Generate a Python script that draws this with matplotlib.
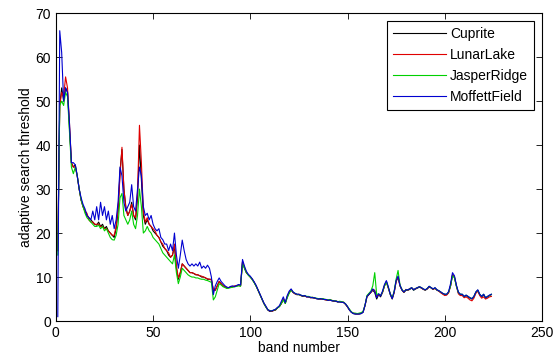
import matplotlib
matplotlib.use("Agg")
import matplotlib.pyplot as plt

# adaptive search threshold per band, one list per scene (bands 1..224)
cuprite = [
    16, 49, 53, 50, 53, 52, 44, 36, 35, 35.5,
    33, 30, 27.5, 26, 25, 24, 23.5, 23, 22.5, 22,
    21.8, 22.5, 21.5, 22, 21, 21.5, 20.5, 20, 19.5, 19,
    21, 25, 34, 39, 30, 26, 24, 25, 27, 24,
    23, 28, 40, 32, 24, 22, 23, 22, 21.5, 20.5,
    20, 19.5, 19, 18, 17, 16.5, 16, 15, 14.5, 15,
    17, 12, 9.5, 11, 13, 12.5, 12, 11.5, 11, 11,
    10.8, 10.5, 10.5, 10.3, 10, 10, 9.8, 9.5, 9.5, 9.5,
    7, 7, 8, 9, 8.5, 8, 7.8, 7.5, 7.6, 7.8,
    7.8, 7.9, 8, 8.2, 8, 13.5, 12, 11, 10.5, 10,
    9.5, 8.8, 8, 7, 6, 5, 4, 3.2, 2.5, 2.2,
    2.2, 2.4, 2.5, 3, 3.3, 4, 5, 4, 5.5, 6.5,
    7.2, 6.5, 6.2, 6, 6, 5.8, 5.6, 5.7, 5.5, 5.5,
    5.3, 5.3, 5.2, 5.1, 5, 5, 5, 4.9, 4.8, 4.7,
    4.8, 4.6, 4.5, 4.5, 4.3, 4.4, 4.3, 4.2, 3.8, 3.2,
    2.5, 2, 1.7, 1.6, 1.6, 1.6, 1.7, 2, 3.5, 5.5,
    6, 6.5, 7, 6.5, 5, 6, 5.5, 6.5, 8, 9,
    7.5, 6, 5, 6.5, 9, 10, 8, 7, 6.5, 7,
    7, 7.2, 7.5, 7, 7.3, 7.5, 7.7, 7.5, 7.2, 7,
    7.3, 7.8, 7.5, 7.2, 7.5, 7, 6.8, 6.5, 6.2, 6,
    6, 6.5, 8, 10.5, 10, 8, 6.5, 6, 6, 5.5,
    5.8, 5.5, 5.2, 5, 5.5, 6.5, 7, 6, 5.5, 6,
    5.2, 5.5, 5.8, 6,
]

lunar_lake = [
    16, 49, 52, 51, 55.5, 53, 45, 36, 35, 35,
    33, 30, 27.5, 26, 25, 24.5, 23, 22.5, 22.5, 22,
    22, 22, 21.5, 21.5, 21, 21, 20.5, 20, 19.5, 19.5,
    21.5, 25.5, 33, 39.5, 30, 25.5, 24, 25, 26.5, 24,
    23.5, 29, 44.5, 36, 25, 22.5, 23.5, 22, 21.5, 21,
    20.5, 19.5, 19, 18, 17.5, 16.5, 16, 15.5, 14.5, 15,
    17.5, 12.5, 9.8, 11, 13, 12.5, 12, 11.5, 11, 11,
    10.8, 10.6, 10.5, 10.3, 10.2, 10, 9.8, 9.6, 9.5, 9.3,
    7.2, 7, 8, 9, 8.5, 8, 7.8, 7.6, 7.6, 7.8,
    7.8, 8, 8, 8.1, 8, 13.5, 12.2, 11, 10.5, 10,
    9.5, 8.8, 8, 7, 6, 5, 4, 3.3, 2.6, 2.3,
    2.2, 2.4, 2.6, 3, 3.4, 4, 5, 4.2, 5.5, 6.5,
    7, 6.5, 6.2, 6, 6.1, 5.8, 5.7, 5.7, 5.5, 5.5,
    5.3, 5.4, 5.2, 5.1, 5.1, 5, 5.1, 4.9, 4.8, 4.8,
    4.8, 4.7, 4.5, 4.6, 4.4, 4.4, 4.3, 4.3, 3.8, 3.2,
    2.6, 2, 1.8, 1.7, 1.6, 1.7, 1.8, 2.1, 3.5, 5.6,
    6.2, 6.5, 7.2, 7, 5.5, 6, 5.8, 6.5, 8, 8.8,
    7.5, 6.2, 5.2, 6.5, 9, 10, 8, 7.2, 6.5, 7.2,
    7, 7.4, 7.5, 7.2, 7.3, 7.6, 7.8, 7.5, 7.2, 7.1,
    7.3, 7.8, 7.6, 7.2, 7.4, 7.1, 6.8, 6.4, 6.1, 5.8,
    5.9, 6.4, 8, 10.5, 10, 8, 6.2, 5.8, 5.8, 5.3,
    5.5, 5.2, 4.8, 4.6, 5.2, 6.3, 6.8, 5.8, 5.2, 5.5,
    5, 5.2, 5.5, 5.6,
]

jasper_ridge = [
    15, 49, 50, 49, 52, 51, 43, 35, 33.5, 35,
    33, 30, 27.5, 26, 24.5, 23.5, 23, 22.5, 22, 21.5,
    21.5, 21.8, 21, 21.5, 20.5, 21, 20, 19, 18.5, 18.4,
    19.5, 22, 28, 29, 24, 23, 22, 23, 25, 22,
    21, 24, 30, 26, 20, 20.5, 21.5, 20.5, 20, 19,
    18.5, 18, 17.5, 16.5, 15.5, 15, 14.5, 14, 13.5, 13,
    15, 11, 8.5, 10, 12, 11.5, 11, 10.5, 10.2, 10,
    10, 9.8, 9.8, 9.6, 9.5, 9.5, 9.3, 9.2, 9, 8.8,
    4.8, 5.5, 7, 8.5, 8.2, 7.8, 7.6, 7.4, 7.5, 7.6,
    7.7, 7.8, 7.9, 8, 7.9, 13, 12, 11, 10.4, 10,
    9.4, 8.7, 7.9, 7, 6, 5, 4, 3.2, 2.6, 2.4,
    2.3, 2.5, 2.6, 3, 3.3, 4, 4.8, 4, 5.3, 6.3,
    7, 6.6, 6.3, 6.1, 6, 5.9, 5.7, 5.8, 5.6, 5.6,
    5.4, 5.4, 5.3, 5.2, 5.1, 5.1, 5.1, 5, 4.9, 4.8,
    4.9, 4.7, 4.6, 4.6, 4.4, 4.5, 4.4, 4.3, 3.9, 3.3,
    2.7, 2.1, 1.8, 1.8, 1.7, 1.8, 1.9, 2.2, 3.6, 5.8,
    6.3, 6.8, 8, 11, 6, 6.2, 5.8, 6.6, 8, 8.8,
    7.6, 6.2, 5.3, 6.8, 9.5, 11.5, 8.2, 7.2, 6.6, 7.1,
    7.1, 7.3, 7.6, 7.1, 7.4, 7.6, 7.8, 7.6, 7.3, 7.1,
    7.4, 7.9, 7.6, 7.3, 7.5, 7.1, 6.9, 6.6, 6.3, 6.1,
    6.1, 6.6, 8, 10.3, 9.8, 7.9, 6.5, 6.1, 6.1, 5.6,
    5.9, 5.6, 5.3, 5.1, 5.6, 6.6, 7, 6.1, 5.6, 6.1,
    5.3, 5.6, 5.8, 6.1,
]

moffett_field = [
    1, 66, 61, 50, 53, 52, 45, 36, 36, 35.5,
    33, 30, 28, 26.5, 25.5, 24, 23.5, 23, 25, 23,
    26, 23, 27, 24, 26, 23, 25, 22, 24, 21,
    23, 27, 35, 33, 27, 25, 26, 27, 31, 26,
    25, 30, 35, 33, 26, 24, 24.5, 23, 24, 22,
    21, 20.5, 21, 19, 18.5, 17.5, 17.5, 16, 17.5, 16,
    20, 15, 12, 15, 18.4, 16, 14, 13, 12.5, 13,
    12.5, 13, 12.5, 13.4, 12, 12.5, 12, 12.7, 12, 10,
    6, 8, 9, 9.8, 9, 8.5, 8, 7.7, 7.6, 7.9,
    8, 7.8, 8.1, 8.3, 8.2, 14, 12.5, 11.3, 10.6, 10.2,
    9.6, 8.9, 8.1, 7.1, 6.1, 5.1, 4.1, 3.4, 2.6, 2.3,
    2.3, 2.5, 2.7, 3.1, 3.5, 4.5, 5.5, 4.2, 5.8, 6.8,
    7.3, 6.6, 6.3, 6.1, 6.1, 5.9, 5.7, 5.8, 5.5, 5.5,
    5.4, 5.3, 5.3, 5.1, 5, 5.1, 5, 4.9, 4.9, 4.7,
    4.8, 4.6, 4.6, 4.5, 4.4, 4.3, 4.3, 4.2, 3.9, 3.3,
    2.5, 2, 1.7, 1.6, 1.6, 1.6, 1.7, 2, 3.6, 5.6,
    6.1, 6.6, 7.3, 6.8, 5.3, 6.2, 5.7, 6.8, 8.3, 9.2,
    7.8, 6.1, 5.1, 6.7, 9.2, 10.2, 8.1, 7.1, 6.6, 7.1,
    7.1, 7.3, 7.6, 7.1, 7.4, 7.6, 7.8, 7.6, 7.3, 7.1,
    7.4, 7.9, 7.6, 7.3, 7.6, 7.1, 6.9, 6.6, 6.3, 6.1,
    6.1, 6.7, 8.5, 11, 10.3, 8.2, 6.6, 6.1, 6.1, 5.6,
    5.9, 5.6, 5.3, 5.1, 5.6, 6.6, 7.1, 6.1, 5.6, 6.1,
    5.3, 5.6, 5.9, 6.1,
]

series = [
    ("Cuprite", cuprite, "#000000"),
    ("LunarLake", lunar_lake, "#e00000"),
    ("JasperRidge", jasper_ridge, "#00d000"),
    ("MoffettField", moffett_field, "#0000d0"),
]

plt.rcParams["font.family"] = ["Liberation Sans", "DejaVu Sans"]

fig = plt.figure(figsize=(5.53, 3.64), dpi=100)
ax = fig.add_axes([0.101, 0.118, 0.879, 0.846])

for name, vals, color in series:
    bands = range(1, len(vals) + 1)
    ax.plot(bands, vals, color=color, linewidth=0.8, label=name)

ax.set_xlim(0, 250)
ax.set_ylim(0, 70)
ax.set_xticks(range(0, 251, 50))
ax.set_yticks(range(0, 71, 10))
ax.tick_params(direction="in", top=True, right=True, labelsize=10, length=4, width=0.6)
for sp in ax.spines.values():
    sp.set_linewidth(0.8)

ax.set_xlabel("band number", fontsize=10, labelpad=1)
ax.set_ylabel("adaptive search threshold", fontsize=10, labelpad=2)

leg = ax.legend(loc="upper right", fontsize=10, frameon=True, fancybox=False,
                edgecolor="black", framealpha=1, handlelength=3.8,
                labelspacing=0.5, borderaxespad=0.55, handletextpad=0.3,
                borderpad=0.45)
leg.get_frame().set_linewidth(0.8)

fig.savefig("out.png", dpi=100)
